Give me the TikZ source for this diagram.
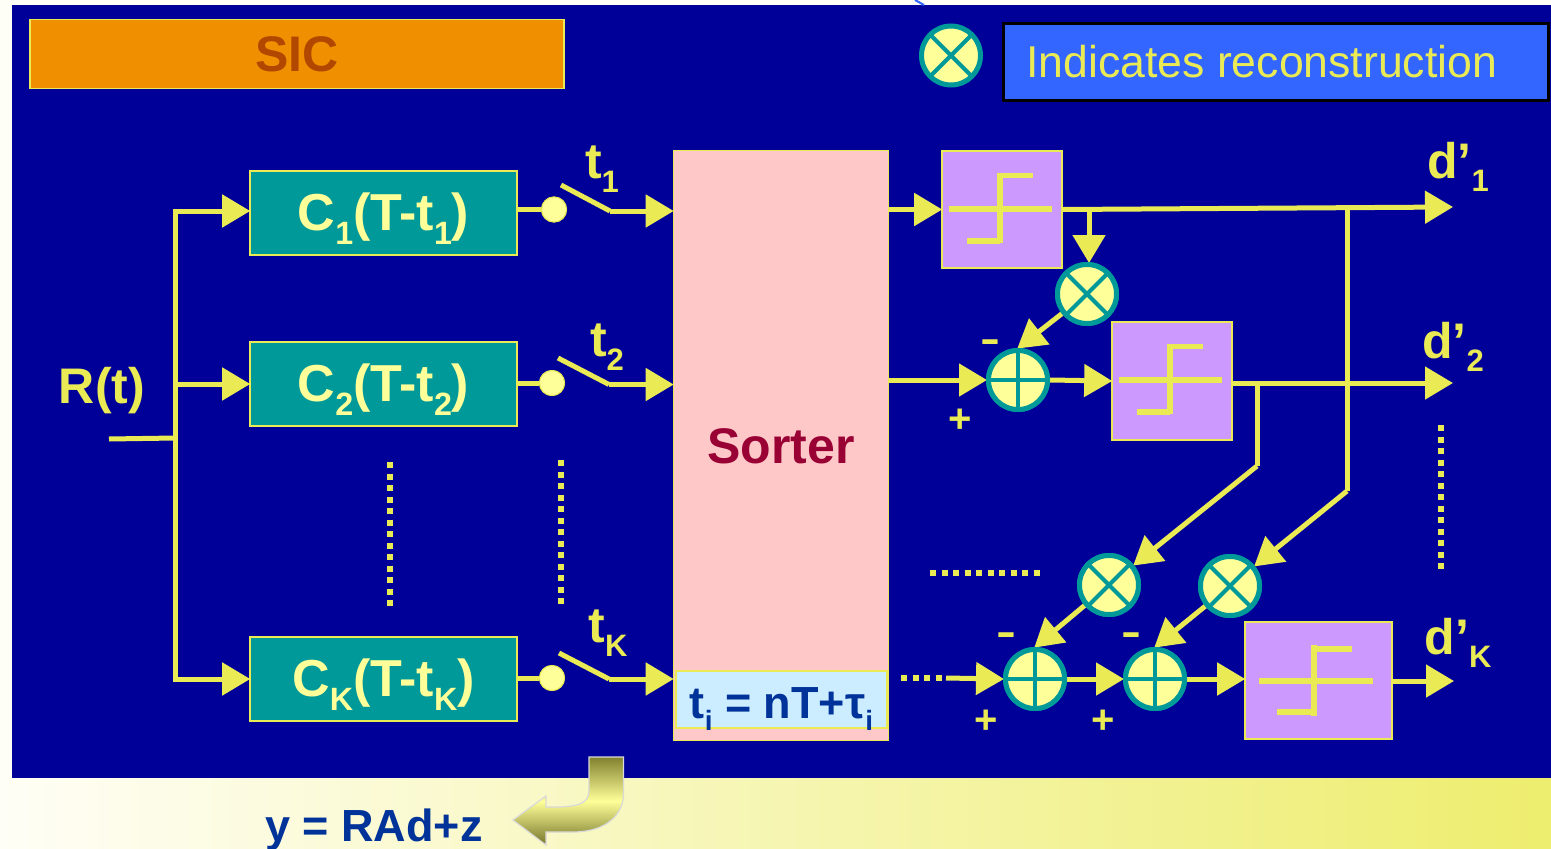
\documentclass[tikz,border=0pt]{standalone}
\usepackage{fontspec}
\setmainfont{Liberation Sans}
\usetikzlibrary{arrows.meta,calc}
\definecolor{navy}{HTML}{000099}
\definecolor{yel}{HTML}{EAEA55}
\definecolor{tealc}{HTML}{009999}
\definecolor{pale}{HTML}{FFFF99}
\definecolor{lilac}{HTML}{CC99FF}
\definecolor{pinkc}{HTML}{FFC8C8}
\definecolor{skyc}{HTML}{CCECFF}
\definecolor{bluec}{HTML}{3366FF}
\definecolor{inkb}{HTML}{003399}
\definecolor{maroon}{HTML}{990033}
\definecolor{orangec}{HTML}{F09000}
\definecolor{rustc}{HTML}{B24700}
\definecolor{cream}{HTML}{FFFEF6}
\newcommand{\sbx}[2][.62]{\raisebox{-.27em}{\scalebox{#1}{#2}}}
\newcommand{\low}[1]{\raisebox{-17pt}[0pt][0pt]{#1}}
\newcommand{\widedash}{\scalebox{1.5}[1]{-}}
\tikzset{
  wire/.style={draw=yel,line width=5pt},
  arr/.style={wire,-{Triangle[length=28pt,width=32pt]},shorten >=-1pt},
  filt/.style={draw=yel,line width=1.6pt,fill=tealc,inner sep=0pt,font=\bfseries\fontsize{52}{52}\selectfont,text=pale},
  thresh/.style={draw=yel,line width=1.6pt,fill=lilac,inner sep=0pt},
  mix/.style={circle,draw=tealc,fill=pale,line width=5pt,minimum size=59pt,inner sep=0pt},
  times/.style={mix,path picture={
     \draw[tealc,line width=4pt] (path picture bounding box.south west)--(path picture bounding box.north east)
       (path picture bounding box.north west)--(path picture bounding box.south east);}},
  plus/.style={mix,path picture={
     \draw[tealc,line width=4pt] (path picture bounding box.south)--(path picture bounding box.north)
       (path picture bounding box.west)--(path picture bounding box.east);}},
  contact/.style={circle,fill=pale,draw=yel,line width=1pt,minimum size=25pt,inner sep=0pt},
  blade/.style={draw=yel,line width=5pt},
  dotty/.style={draw=yel,line width=6pt,dash pattern=on 6pt off 5.5pt},
  lab/.style={text=yel,inner sep=0pt,font=\bfseries\fontsize{50}{50}\selectfont},
  sgn/.style={text=yel,inner sep=0pt,font=\bfseries\fontsize{40}{40}\selectfont},
  glyph/.style={draw=yel,line width=5.5pt}
}
\begin{document}
\begin{tikzpicture}[x=1pt,y=-1pt]
\useasboundingbox (0,0) rectangle (1551,849);
\fill[cream] (0,0) rectangle (1551,849);
\shade[left color=cream,right color=yel!85!white] (0,778) rectangle (1551,849);
\fill[navy] (12,5) rectangle (1551,778);
\draw[bluec,line width=2pt] (915,0) -- (924,5);
% header
\node[draw=yel,line width=1.6pt,fill=orangec,minimum width=534pt,minimum height=69pt,inner sep=0pt,text=rustc,font=\bfseries\fontsize{50}{50}\selectfont] (sic) at (297,54) {SIC};
\node[times] (legend) at (951,55.5) {};
\node[draw=black,line width=3pt,fill=bluec,minimum width=545pt,minimum height=77pt,inner sep=0pt] (legendbox) at (1276,61.5) {};
\node[text=yel,inner sep=0pt,anchor=west,font=\fontsize{44.6}{44.6}\selectfont] (legendtxt) at (1026,62) {Indicates reconstruction};
% blocks
\node[filt,minimum width=267pt,minimum height=84pt] (c1) at (383.5,213) {\low{C\sbx{1}(T-t\sbx{1})}};
\node[filt,minimum width=267pt,minimum height=84pt] (c2) at (383.5,384) {\low{C\sbx{2}(T-t\sbx{2})}};
\node[filt,minimum width=267pt,minimum height=84pt] (ck) at (383.5,679) {\low{C\sbx{K}(T-t\sbx{K})}};
\node[draw=yel,line width=1.6pt,fill=pinkc,minimum width=215pt,minimum height=590pt,inner sep=0pt] (sorter) at (781,445.5) {};
\node[text=maroon,inner sep=0pt,font=\bfseries\fontsize{50}{50}\selectfont] (sortertxt) at (781,446) {Sorter};
\node[draw=yel,line width=1.6pt,fill=skyc,minimum width=211pt,minimum height=57pt,inner sep=0pt,text=inkb,font=\bfseries\fontsize{45}{45}\selectfont] (tbox) at (781.5,699.5) {\raisebox{-19pt}[0pt][0pt]{t\sbx{i} = nT+τ\sbx{i}}};
\node[thresh,minimum width=120pt,minimum height=117pt] (q1) at (1002,209.5) {};
\node[thresh,minimum width=120pt,minimum height=118pt] (q2) at (1172,381) {};
\node[thresh,minimum width=147pt,minimum height=117pt] (qk) at (1318.5,680.5) {};
% threshold glyphs
\draw[glyph] (949,209) -- (1052,209) (1000,173) -- (1000,243) (1000,175.5) -- (1033,175.5) (967,241) -- (1000,241);
\draw[glyph] (1119,380) -- (1222,380) (1170,344) -- (1170,414) (1170,346.5) -- (1203,346.5) (1137,412) -- (1170,412);
\draw[glyph] (1259,681) -- (1373,681) (1314,645) -- (1314,716) (1314,649) -- (1352,649) (1277,712) -- (1314,712);
% input bus
\coordinate (rin) at (109,439);
\coordinate (bj) at (175,438);
\coordinate (bt) at (175,211);
\coordinate (b2) at (175,384);
\coordinate (bb) at (175,679);
\draw[wire] (rin) -- (bj);
\draw[wire,line cap=rect] (bt) -- (bb);
\draw[arr] (bt) -- (c1.west |- bt);
\draw[arr] (b2) -- (c2.west |- b2);
\draw[arr] (bb) -- (ck.west |- bb);
% switches
\node[contact] (s1) at (554,209.5) {};
\node[contact] (s2) at (552,383) {};
\node[contact] (sk) at (552,678) {};
\coordinate (b1a) at (561,185); \coordinate (b1b) at (610,211);
\coordinate (b2a) at (558,358); \coordinate (b2b) at (609,384.5);
\coordinate (bka) at (559,653); \coordinate (bkb) at (609,679);
\draw[wire] (c1.east |- s1) -- (s1);
\draw[wire] (c2.east |- s2) -- (s2);
\draw[wire] (ck.east |- sk) -- (sk);
\draw[blade] (b1a) -- (b1b);
\draw[blade] (b2a) -- (b2b);
\draw[blade] (bka) -- (bkb);
\draw[arr] (b1b) -- (sorter.west |- b1b);
\draw[arr] (b2b) -- (sorter.west |- b2b);
\draw[arr] (bkb) -- (sorter.west |- bkb);
% mixers
\node[times] (x1) at (1087,294) {};
\node[plus] (p2) at (1018,380) {};
\node[times] (x2) at (1109,585) {};
\node[times] (x3) at (1230,586) {};
\node[plus] (p3) at (1035,679) {};
\node[plus] (pk) at (1155,679) {};
% right hand wiring
\coordinate (o1) at (1452,207);
\coordinate (o2) at (1452,383);
\coordinate (ok) at (1453,681);
\coordinate (t1) at (1089,208);
\coordinate (j2) at (1257,383);
\coordinate (j2b) at (1257,466);
\coordinate (j1) at (1347,208);
\coordinate (j1b) at (1347,491);
\coordinate (dotsend) at (946,678);
\draw[arr] (sorter.east |- q1) -- (q1.west);
\draw[arr] (q1.east) -- (o1);
\draw[arr] (t1) -- (t1 |- x1.north);
\draw[arr] (x1) -- (p2.north);
\draw[arr] (sorter.east |- p2) -- (p2.west);
\draw[arr] (p2.east) -- (q2.west);
\draw[arr] (q2.east |- o2) -- (o2);
\draw[wire] (j2) -- (j2b);
\draw[arr] (j2b) -- (x2);
\draw[wire] (j1) -- (j1b);
\draw[arr] (j1b) -- (x3);
\draw[arr] (x2) -- (p3.north);
\draw[arr] (x3) -- (pk.north);
\draw[arr] (dotsend) -- (p3.west);
\draw[arr] (p3.east) -- (pk.west);
\draw[arr] (pk.east) -- (qk.west |- pk);
\draw[arr] (qk.east |- ok) -- (ok);
% redraw mixers above wires
\node[times] at (x1) {};
\node[plus] at (p2) {};
\node[times] at (x2) {};
\node[times] at (x3) {};
\node[plus] at (p3) {};
\node[plus] at (pk) {};
\node[contact] at (s1) {};
\node[contact] at (s2) {};
\node[contact] at (sk) {};
% dotted runs
\coordinate (d1a) at (390,462); \coordinate (d1b) at (390,606);
\coordinate (d2a) at (561,460); \coordinate (d2b) at (561,604);
\coordinate (d3a) at (1441,425); \coordinate (d3b) at (1441,570);
\coordinate (d4a) at (930,573); \coordinate (d4b) at (1040,573);
\coordinate (d5a) at (901,678); \coordinate (d5b) at (942,678);
\draw[dotty] (d1a) -- (d1b);
\draw[dotty] (d2a) -- (d2b);
\draw[dotty] (d3a) -- (d3b);
\draw[dotty] (d4a) -- (d4b);
\draw[dotty] (d5a) -- (d5b);
% labels
\node[lab] (rt) at (102,391) {R(t)};
\node[lab] (lt1) at (602,169) {t\sbx{1}};
\node[lab] (lt2) at (607,347) {t\sbx{2}};
\node[lab] (ltk) at (608,633) {t\sbx{K}};
\node[lab] (ld1) at (1458,167) {d’\sbx{1}};
\node[lab] (ld2) at (1453,347) {d’\sbx{2}};
\node[lab] (ldk) at (1458,643) {d’\sbx{K}};
\node[sgn] (m2) at (990,346) {\widedash};
\node[sgn] (a2) at (960,421) {+};
\node[sgn] (m3) at (1006,639) {\widedash};
\node[sgn] (a3) at (986,722) {+};
\node[sgn] (mk) at (1131,639) {\widedash};
\node[sgn] (ak) at (1103,722) {+};
% bottom formula and bent arrow
\node[text=inkb,inner sep=0pt,anchor=west,font=\bfseries\fontsize{45}{45}\selectfont] (eqn) at (265,830) {y = RAd+z};
\path[draw=black!15,line width=1.2pt,top color=yel!55!black,bottom color=yel!50!black,middle color=pale]
  (589,757) -- (623.5,757) -- (623.5,795) .. controls (622,820) and (600,832) .. (573,832)
  -- (546,832) -- (546,845) -- (513,820) -- (546,796) -- (546,807) -- (560,807)
  .. controls (578,806) and (589,804) .. (589,790) -- cycle;
\end{tikzpicture}
\end{document}
